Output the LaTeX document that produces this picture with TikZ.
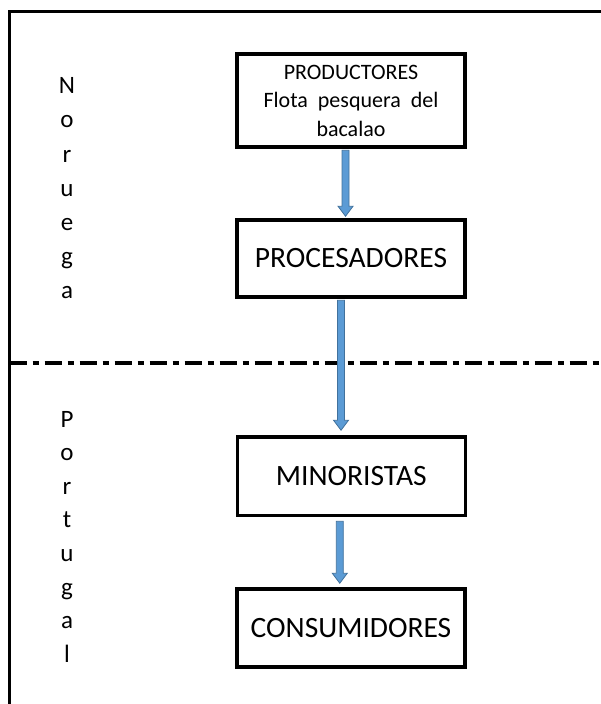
\documentclass[tikz,border=0pt]{standalone}
\usepackage{fontspec}
\setmainfont{Carlito}
\usetikzlibrary{calc}
\definecolor{arrfill}{HTML}{5B9BD5}
\definecolor{arredge}{HTML}{41719C}
\begin{document}
\begin{tikzpicture}[x=1bp,y=-1bp,
  box/.style={draw, line width=3.5bp, inner sep=0pt, minimum width=228bp, align=center},
  bigtxt/.style={font=\fontsize{29.5bp}{35bp}\selectfont},
  smalltxt/.style={font=\fontsize{22bp}{28.5bp}\selectfont},
  sidelab/.style={anchor=base, inner sep=0pt, font=\fontsize{25bp}{30bp}\selectfont},
  frameline/.style={line width=2.5bp},
  sepline/.style={line width=4bp, dash pattern=on 17bp off 6bp on 6bp off 6bp},
  blockarrow/.style={draw=arredge, fill=arrfill, line width=0.8bp,
    to path={let \p1=(\tikztostart), \p2=(\tikztotarget) in
      (\x1-3.5bp,\y1) -- (\x1-3.5bp,\y2+10bp) -- (\x1-7.5bp,\y2+10bp) -- (\x1,\y2)
      -- (\x1+7.5bp,\y2+10bp) -- (\x1+3.5bp,\y2+10bp) -- (\x1+3.5bp,\y1) -- cycle}}]
\useasboundingbox (0,0) rectangle (601,704);

% frame
\coordinate (tl) at (9.6,11.5);
\coordinate (tr) at (601,11.5);
\coordinate (bl) at (9.6,704);
\draw[frameline] (tr) -- (tl) -- (bl);

% separator
\coordinate (sl) at (9.6,363);
\coordinate (sr) at (601,363);
\draw[sepline] (sl) -- (sr);

% side labels
\foreach \c [count=\i] in {N,o,r,u,e,g,a}
  \node[sidelab] (nor\i) at (67,{94+34*(\i-1)}) {\c};
\foreach \c [count=\i] in {P,o,r,t,u,g,a,l}
  \node[sidelab] (por\i) at (67,{427+33.6*(\i-1)}) {\c};

% boxes
\node[box, smalltxt, minimum height=93bp] (prod) at (351,100.5) {PRODUCTORES\\Flota\hspace{5bp} pesquera\hspace{5bp} del\\bacalao};
\node[box, bigtxt, minimum height=77bp] (proc) at (351,258.5) {PROCESADORES};
\node[box, bigtxt, minimum height=78.5bp] (mino) at (351.25,476.25) {MINORISTAS};
\node[box, bigtxt, minimum height=78bp] (cons) at (351,628) {CONSUMIDORES};

% arrows
\draw[blockarrow] ([xshift=-5.5bp,yshift=-1.5bp]prod.south) to ([xshift=-5.5bp,yshift=2bp]proc.north);
\draw[blockarrow] ([xshift=-10bp,yshift=-1.5bp]proc.south) to ([xshift=-10bp,yshift=5bp]mino.north);
\draw[blockarrow] ([xshift=-11.5bp,yshift=-4bp]mino.south) to ([xshift=-11.5bp,yshift=4bp]cons.north);
\end{tikzpicture}
\end{document}
